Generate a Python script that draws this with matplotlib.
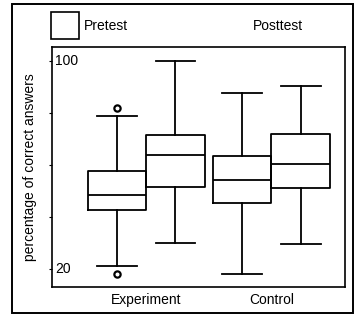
import matplotlib
matplotlib.use("Agg")
import matplotlib.pyplot as plt
from matplotlib.patches import Rectangle
from matplotlib.transforms import blended_transform_factory

plt.rcParams['font.family'] = ['Liberation Sans', 'DejaVu Sans']

# Data: percentage of correct answers per group and test
groups = ["Experiment", "Control"]
tests = ["Pretest", "Posttest"]
medians = [48.3, 64.0, 54.3, 60.3]
q1 = [42.7, 51.5, 45.5, 51.0]
q3 = [57.6, 71.4, 63.6, 72.1]
whisker_low = [21.3, 30.0, 18.1, 29.7]
whisker_high = [78.7, 100.0, 87.6, 90.4]
outliers = [[82.0, 18.1], [], [], []]
ytick_values = [20, 40, 60, 80, 100]
ytick_labels = ["20", "", "", "", "100"]

W, H = 361, 323
fig = plt.figure(figsize=(W / 100, H / 100), dpi=100)
ax = fig.add_axes([51.7 / W, 1 - 287 / H, (345 - 51.7) / W, (287 - 47) / H])

offset = 0.234
width = 0.468
positions = []
for g in range(len(groups)):
    positions += [g + 1 - offset, g + 1 + offset]

stats = []
for i in range(4):
    stats.append(dict(med=medians[i], q1=q1[i], q3=q3[i],
                      whislo=whisker_low[i], whishi=whisker_high[i],
                      fliers=outliers[i]))

lw = 1.3
ax.bxp(stats, positions=positions, widths=width, showfliers=True,
       boxprops=dict(color='black', linewidth=lw),
       medianprops=dict(color='black', linewidth=lw),
       whiskerprops=dict(color='black', linewidth=lw),
       capprops=dict(color='black', linewidth=lw),
       capwidths=width * 0.68,
       flierprops=dict(marker='o', markersize=4.5, markerfacecolor='white',
                       markeredgecolor='black', markeredgewidth=1.6))

ax.set_xlim(0.246, 2.587)
ax.set_ylim(13.1, 105.4)
ax.set_xticks([1, 2])
ax.set_xticklabels(groups, fontsize=10)
ax.tick_params(axis='x', length=0, pad=4)

ax.set_yticks(ytick_values)
ax.set_yticklabels([])
ax.tick_params(axis='y', direction='out', length=2, width=0.8)
trans = blended_transform_factory(ax.transAxes, ax.transData)
for v, lab in zip(ytick_values, ytick_labels):
    if lab:
        ax.text(0.012, v, lab, transform=trans, ha='left', va='center', fontsize=10)

for s in ax.spines.values():
    s.set_linewidth(1.2)

ax.set_ylabel("percentage of correct answers", fontsize=10)
ax.yaxis.set_label_coords(-0.05, 0.5)

# Legend drawn in figure pixels
fig.patches.append(Rectangle((51 / W, 1 - 39 / H), 28 / W, 27 / H,
                             transform=fig.transFigure, fill=False,
                             edgecolor='black', linewidth=1.2))
fig.text(84 / W, 1 - 26 / H, tests[0], fontsize=10, va='center', ha='left')
fig.text(253 / W, 1 - 26 / H, tests[1], fontsize=10, va='center', ha='left')

# Outer frame
fig.patches.append(Rectangle((12 / W, 1 - 313 / H), 341 / W, 309 / H,
                             transform=fig.transFigure, fill=False,
                             edgecolor='black', linewidth=1.4))

fig.savefig("out.png", dpi=100)
